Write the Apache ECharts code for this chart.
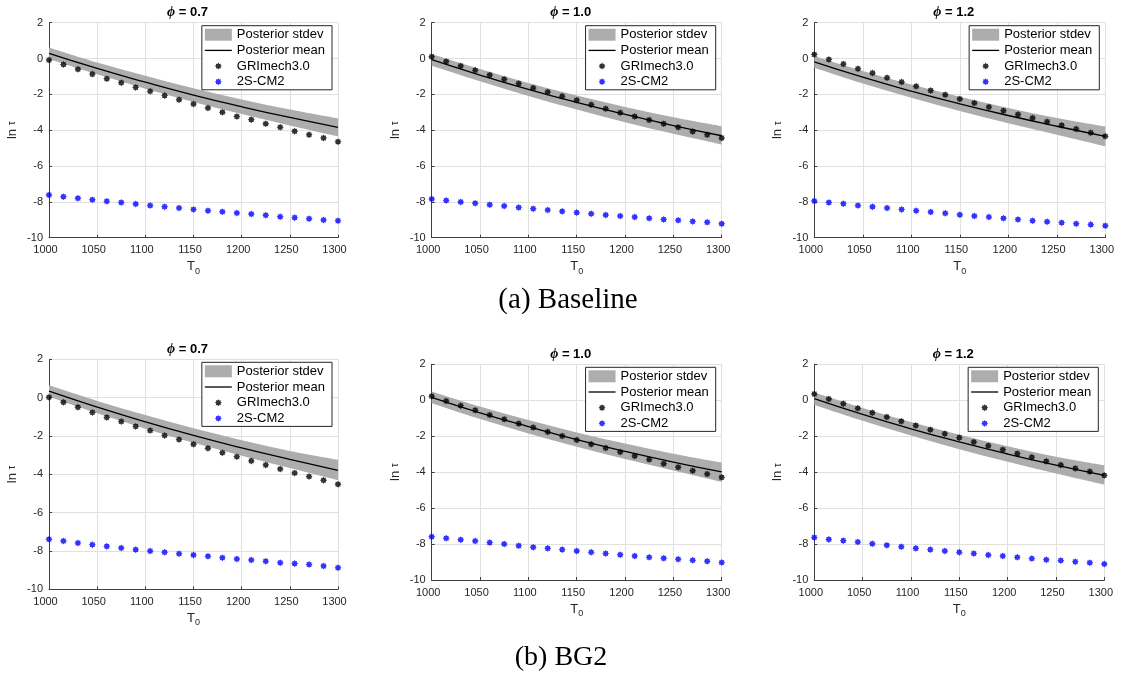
<!DOCTYPE html>
<html>
<head>
<meta charset="utf-8">
<title>Ignition delay: posterior vs. mechanisms</title>
<script src="https://cdn.jsdelivr.net/npm/echarts@6/dist/echarts.min.js"></script>
<style>
  html, body { margin: 0; padding: 0; background: #fff; }
  #chart { width: 1122px; height: 675px; }
</style>
</head>
<body>
<div id="chart"></div>
<script>
// Initial temperatures of the reference points (K)
const T0 = [1000, 1015, 1030, 1045, 1060, 1075, 1090, 1105, 1120, 1135, 1150,
            1165, 1180, 1195, 1210, 1225, 1240, 1255, 1270, 1285, 1300];
// Temperatures at which the posterior curve and band are given
const T0_post = [1000, 1050, 1100, 1150, 1200, 1250, 1300];

const xTicks = [1000, 1050, 1100, 1150, 1200, 1250, 1300];
const yTicks = [-10, -8, -6, -4, -2, 0, 2];
const phiValues = ['0.7', '1.0', '1.2'];
const captions = ['(a) Baseline', '(b) BG2'];

// ---- (a) Baseline ----
const gri_a07 = [-0.08, -0.33, -0.60, -0.87, -1.13, -1.35, -1.61, -1.83, -2.07, -2.30, -2.54,
                 -2.76, -3.00, -3.23, -3.41, -3.64, -3.84, -4.06, -4.25, -4.44, -4.64];
const cm2_a07 = [-7.62, -7.71, -7.80, -7.88, -7.97, -8.03, -8.12, -8.20, -8.27, -8.34, -8.42,
                 -8.49, -8.55, -8.62, -8.68, -8.75, -8.83, -8.88, -8.94, -9.01, -9.05];
const mean_a07 = [0.29, -0.55, -1.32, -2.04, -2.69, -3.29, -3.84];
const hi_a07   = [0.62, -0.22, -0.96, -1.66, -2.28, -2.84, -3.34];
const lo_a07   = [-0.02, -0.88, -1.68, -2.42, -3.10, -3.74, -4.35];

const gri_a10 = [0.10, -0.16, -0.42, -0.66, -0.92, -1.16, -1.40, -1.65, -1.87, -2.11, -2.33,
                 -2.58, -2.80, -3.02, -3.23, -3.43, -3.64, -3.84, -4.07, -4.25, -4.44];
const cm2_a10 = [-7.84, -7.92, -8.01, -8.08, -8.16, -8.23, -8.31, -8.38, -8.46, -8.53, -8.60,
                 -8.66, -8.73, -8.79, -8.85, -8.92, -8.98, -9.03, -9.09, -9.14, -9.22];
const mean_a10 = [-0.06, -0.92, -1.72, -2.45, -3.12, -3.74, -4.31];
const hi_a10   = [0.26, -0.58, -1.36, -2.06, -2.70, -3.28, -3.78];
const lo_a10   = [-0.40, -1.27, -2.09, -2.85, -3.55, -4.20, -4.80];

const gri_a12 = [0.23, -0.05, -0.31, -0.57, -0.81, -1.07, -1.31, -1.55, -1.78, -2.02, -2.26,
                 -2.48, -2.71, -2.91, -3.12, -3.32, -3.53, -3.73, -3.93, -4.14, -4.34];
const cm2_a12 = [-7.95, -8.03, -8.10, -8.20, -8.27, -8.34, -8.42, -8.49, -8.57, -8.64, -8.72,
                 -8.79, -8.85, -8.92, -8.98, -9.05, -9.11, -9.16, -9.22, -9.27, -9.33];
const mean_a12 = [-0.18, -1.04, -1.82, -2.53, -3.18, -3.78, -4.34];
const hi_a12   = [0.14, -0.70, -1.45, -2.14, -2.76, -3.32, -3.80];
const lo_a12   = [-0.51, -1.39, -2.19, -2.93, -3.61, -4.25, -4.90];

// ---- (b) BG2 ----
const gri_b07 = [0.02, -0.24, -0.50, -0.77, -1.03, -1.25, -1.50, -1.72, -1.97, -2.19, -2.43,
                 -2.64, -2.87, -3.08, -3.30, -3.51, -3.72, -3.93, -4.12, -4.31, -4.52];
const cm2_b07 = [-7.39, -7.48, -7.58, -7.67, -7.76, -7.84, -7.93, -8.00, -8.07, -8.14, -8.21,
                 -8.28, -8.35, -8.42, -8.47, -8.54, -8.61, -8.66, -8.71, -8.78, -8.88];
const mean_b07 = [0.34, -0.49, -1.26, -1.97, -2.62, -3.22, -3.79];
const hi_b07   = [0.64, -0.17, -0.91, -1.60, -2.22, -2.78, -3.24];
const lo_b07   = [0.04, -0.82, -1.62, -2.36, -3.03, -3.67, -4.30];

const gri_b10 = [0.22, -0.04, -0.30, -0.56, -0.82, -1.06, -1.30, -1.52, -1.76, -1.99, -2.21,
                 -2.45, -2.66, -2.88, -3.10, -3.30, -3.53, -3.73, -3.92, -4.10, -4.29];
const cm2_b10 = [-7.59, -7.68, -7.76, -7.83, -7.92, -8.00, -8.09, -8.18, -8.24, -8.31, -8.39,
                 -8.46, -8.53, -8.59, -8.66, -8.74, -8.79, -8.85, -8.90, -8.96, -9.03];
const mean_b10 = [0.16, -0.70, -1.47, -2.19, -2.84, -3.44, -3.99];
const hi_b10   = [0.49, -0.35, -1.10, -1.79, -2.41, -2.97, -3.46];
const lo_b10   = [-0.17, -1.05, -1.85, -2.59, -3.27, -3.91, -4.54];

const gri_b12 = [0.35, 0.07, -0.19, -0.45, -0.69, -0.93, -1.17, -1.41, -1.64, -1.86, -2.08,
                 -2.32, -2.53, -2.75, -2.97, -3.17, -3.40, -3.60, -3.79, -3.97, -4.18];
const cm2_b12 = [-7.64, -7.74, -7.81, -7.89, -7.98, -8.07, -8.15, -8.24, -8.31, -8.39, -8.46,
                 -8.53, -8.61, -8.66, -8.74, -8.81, -8.87, -8.92, -8.98, -9.04, -9.11];
const mean_b12 = [0.09, -0.79, -1.59, -2.32, -2.99, -3.61, -4.18];
const hi_b12   = [0.43, -0.43, -1.21, -1.92, -2.56, -3.14, -3.62];
const lo_b12   = [-0.26, -1.14, -1.96, -2.72, -3.42, -4.08, -4.70];

// ---- styling / layout ----
const W = 1122;
const FONT = '"Liberation Sans", Arial, Helvetica, sans-serif';
const SERIF = '"Liberation Serif", "Times New Roman", serif';
const BAND = '#adadad';
const AXIS = '#404040';
const GRIDC = '#e0e0e0';
const TXT = '#262626';

// Six axes boxes: top row = Baseline, bottom row = BG2
const boxes = [
  { left: 49,    top: 22.7,  width: 289, height: 215 },
  { left: 431.7, top: 22.7,  width: 290, height: 215 },
  { left: 814.3, top: 22.7,  width: 291, height: 215 },
  { left: 49,    top: 359.3, width: 289, height: 230 },
  { left: 431.7, top: 364.3, width: 290, height: 215.7 },
  { left: 814.3, top: 364.3, width: 290, height: 215.7 }
];

const panelData = [
  { gri: gri_a07, cm2: cm2_a07, mean: mean_a07, hi: hi_a07, lo: lo_a07, phi: phiValues[0] },
  { gri: gri_a10, cm2: cm2_a10, mean: mean_a10, hi: hi_a10, lo: lo_a10, phi: phiValues[1] },
  { gri: gri_a12, cm2: cm2_a12, mean: mean_a12, hi: hi_a12, lo: lo_a12, phi: phiValues[2] },
  { gri: gri_b07, cm2: cm2_b07, mean: mean_b07, hi: hi_b07, lo: lo_b07, phi: phiValues[0] },
  { gri: gri_b10, cm2: cm2_b10, mean: mean_b10, hi: hi_b10, lo: lo_b10, phi: phiValues[1] },
  { gri: gri_b12, cm2: cm2_b12, mean: mean_b12, hi: hi_b12, lo: lo_b12, phi: phiValues[2] }
];

// asterisk-like star outline centred on (cx, cy)
function starPath(cx, cy, ro, ri, n) {
  let d = '';
  for (let k = 0; k < 2 * n; k++) {
    const r = (k % 2) ? ri : ro;
    const a = Math.PI * k / n - Math.PI / 2;
    d += (k ? 'L' : 'M') + (cx + r * Math.cos(a)).toFixed(2) + ',' + (cy + r * Math.sin(a)).toFixed(2);
  }
  return d + 'Z';
}
const STAR = 'path://' + starPath(0, 0, 10, 7, 8);
// legend icons padded to the full 27x12 icon box so they keep their size
const STAR_ICON = 'path://M0,0M27,12' + starPath(13.5, 6, 3.5, 2.4, 8);
const LINE_ICON = 'path://M0,0M27,12M0,5.35H27V6.65H0Z';

// smooth (Catmull-Rom) cubic segments through pixel points, continuing a path
function splineThrough(pts) {
  let d = '';
  for (let k = 0; k < pts.length - 1; k++) {
    const p0 = pts[Math.max(k - 1, 0)], p1 = pts[k], p2 = pts[k + 1], p3 = pts[Math.min(k + 2, pts.length - 1)];
    const c1 = [p1[0] + (p2[0] - p0[0]) / 6, p1[1] + (p2[1] - p0[1]) / 6];
    const c2 = [p2[0] - (p3[0] - p1[0]) / 6, p2[1] - (p3[1] - p1[1]) / 6];
    d += 'C' + c1[0].toFixed(2) + ',' + c1[1].toFixed(2) + ' ' + c2[0].toFixed(2) + ',' + c2[1].toFixed(2) +
         ' ' + p2[0].toFixed(2) + ',' + p2[1].toFixed(2);
  }
  return d;
}

const zip = (xs, ys) => xs.map((x, k) => [x, ys[k]]);
const plainNum = v => String(v);

const grid = [], xAxis = [], yAxis = [], series = [], legend = [], title = [];

boxes.forEach((b, i) => {
  const p = panelData[i];
  grid.push({ left: b.left, top: b.top, width: b.width, height: b.height,
              containLabel: false, outerBoundsMode: 'none' });

  xAxis.push({
    gridIndex: i, type: 'value', min: xTicks[0], max: xTicks[xTicks.length - 1],
    interval: xTicks[1] - xTicks[0],
    axisLine: { show: true, onZero: false, lineStyle: { color: AXIS, width: 1 } },
    axisTick: { show: true, inside: true, length: 3, lineStyle: { color: AXIS } },
    axisLabel: { fontFamily: FONT, fontSize: 11, color: TXT, margin: 7, formatter: plainNum,
                 padding: [0, 7, 0, 0] },
    splitLine: { show: true, lineStyle: { color: GRIDC, width: 1 } },
    name: '{t|T}{s|0}', nameLocation: 'middle', nameGap: 22,
    nameTextStyle: { rich: {
      t: { fontFamily: FONT, fontSize: 13, color: TXT, lineHeight: 14 },
      s: { fontFamily: FONT, fontSize: 9, color: TXT, lineHeight: 14, padding: [9, 0, 0, 0] }
    } }
  });

  yAxis.push({
    gridIndex: i, type: 'value', min: yTicks[0], max: yTicks[yTicks.length - 1],
    interval: yTicks[1] - yTicks[0],
    axisLine: { show: true, onZero: false, lineStyle: { color: AXIS, width: 1 } },
    axisTick: { show: true, inside: true, length: 3, lineStyle: { color: AXIS } },
    axisLabel: { fontFamily: FONT, fontSize: 11, color: TXT, margin: 6, formatter: plainNum },
    splitLine: { show: true, lineStyle: { color: GRIDC, width: 1 } },
    name: '{a|ln }{b|τ}', nameLocation: 'middle', nameGap: 30, nameRotate: 90,
    nameTextStyle: { rich: {
      a: { fontFamily: FONT, fontSize: 13, color: TXT },
      b: { fontFamily: FONT, fontSize: 10, color: TXT }
    } }
  });

  // posterior ±stdev band, drawn once as a closed smooth shape through the data points
  series.push({
    type: 'custom', name: 'Posterior stdev', xAxisIndex: i, yAxisIndex: i,
    data: T0_post.map((t, k) => [t, p.lo[k], p.hi[k]]),
    encode: { x: 0, y: [1, 2] },
    itemStyle: { color: BAND }, silent: true, z: 1,
    renderItem: (params, api) => {
      if (params.dataIndex !== 0) return null;
      const up = T0_post.map((t, k) => api.coord([t, p.hi[k]]));
      const dn = T0_post.map((t, k) => api.coord([t, p.lo[k]])).reverse();
      const d = 'M' + up[0][0] + ',' + up[0][1] + splineThrough(up) +
                'L' + dn[0][0] + ',' + dn[0][1] + splineThrough(dn) + 'Z';
      return { type: 'path', shape: { pathData: d }, style: { fill: BAND, stroke: null } };
    }
  });
  series.push({
    type: 'line', name: 'Posterior mean', xAxisIndex: i, yAxisIndex: i,
    data: zip(T0_post, p.mean), smooth: true, symbol: 'none', silent: true,
    lineStyle: { color: '#000', width: 1.3 }, itemStyle: { color: '#000' }, z: 3
  });
  series.push({
    type: 'scatter', name: 'GRImech3.0', xAxisIndex: i, yAxisIndex: i,
    data: zip(T0, p.gri), symbol: STAR, symbolSize: 7, silent: true,
    itemStyle: { color: '#000' }, z: 4
  });
  series.push({
    type: 'scatter', name: '2S-CM2', xAxisIndex: i, yAxisIndex: i,
    data: zip(T0, p.cm2), symbol: STAR, symbolSize: 7, silent: true,
    itemStyle: { color: '#0000ff' }, z: 4
  });

  legend.push({
    orient: 'vertical', align: 'left',
    right: W - (b.left + b.width) + 6, top: b.top + 3,
    itemWidth: 27, itemHeight: 12, itemGap: 1.7,
    padding: [2, 7, 1, 3],
    borderColor: '#262626', borderWidth: 1, backgroundColor: '#fff',
    selectedMode: false, z: 10,
    textStyle: { fontFamily: FONT, fontSize: 13, color: '#000', lineHeight: 14 },
    data: [
      { name: 'Posterior stdev', icon: 'rect', itemStyle: { color: BAND } },
      { name: 'Posterior mean', icon: LINE_ICON, itemStyle: { color: '#000' } },
      { name: 'GRImech3.0', icon: STAR_ICON, itemStyle: { color: '#000' } },
      { name: '2S-CM2', icon: STAR_ICON, itemStyle: { color: '#0000ff' } }
    ]
  });

  title.push({
    text: '{g|ϕ}{v| = ' + p.phi + '}',
    left: b.left + b.width / 2 - 6, top: b.top - 17, textAlign: 'center', padding: 0,
    textStyle: { rich: {
      g: { fontFamily: SERIF, fontStyle: 'italic', fontWeight: 'bold', fontSize: 14, color: '#000' },
      v: { fontFamily: FONT, fontWeight: 'bold', fontSize: 13, color: '#000' }
    } }
  });
});

const chart = echarts.init(document.getElementById('chart'), null, { renderer: 'canvas' });
chart.setOption({
  animation: false,
  backgroundColor: '#fff',
  title, grid, xAxis, yAxis, series, legend,
  graphic: [
    { type: 'text', x: 568, y: 300,
      style: { text: captions[0], font: '29px ' + SERIF, fill: '#000', align: 'center', verticalAlign: 'middle' } },
    { type: 'text', x: 561, y: 658,
      style: { text: captions[1], font: '28px ' + SERIF, fill: '#000', align: 'center', verticalAlign: 'middle' } }
  ]
});
</script>
</body>
</html>
